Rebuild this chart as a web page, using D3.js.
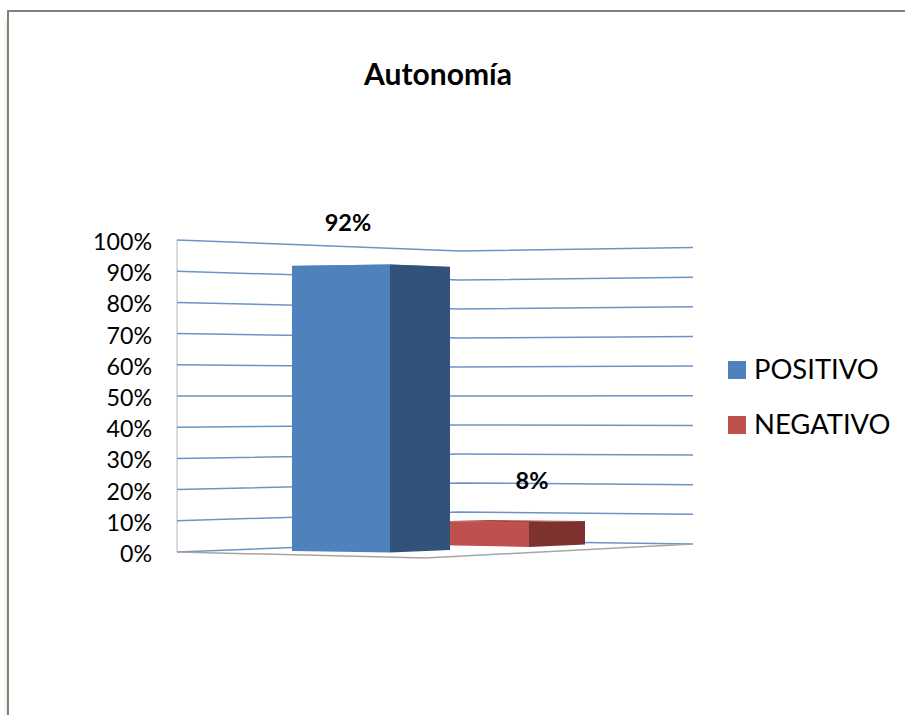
<!DOCTYPE html>
<html>
<head>
<meta charset="utf-8">
<script src="https://cdn.jsdelivr.net/npm/d3@7"></script>
<style>
    html, body { margin: 0; padding: 0; background: #fff; }
    svg { display: block; }
    text { font-family: Lato, "Open Sans", sans-serif; fill: #000; }
</style>
</head>
<body>
<svg id="chart"></svg>
<script>
const chartTitle = "Autonomía";
const categories = ["POSITIVO", "NEGATIVO"];
const values = [92, 8];
const valueLabels = ["92%", "8%"];
const tickValues = [0, 10, 20, 30, 40, 50, 60, 70, 80, 90, 100];

const width = 905, height = 715;
const svg = d3.select("#chart").attr("width", width).attr("height", height);

// page frame with the pale green glow on the left
const defs = svg.append("defs");
const glow = defs.append("linearGradient").attr("id", "glow");
glow.append("stop").attr("offset", "0").attr("stop-color", "#fff");
glow.append("stop").attr("offset", "1").attr("stop-color", "#e9f4d8");
svg.append("rect").attr("x", 3).attr("y", 20).attr("width", 4).attr("height", height - 20).attr("fill", "url(#glow)");
svg.append("path")
    .attr("d", `M8,${height}V11H${width}`)
    .attr("fill", "none").attr("stroke", "#808080").attr("stroke-width", 2);

// the two walls: left edge, back corner, right edge, each with its own value scale
const walls = [
    { x: 177, y: d3.scaleLinear().domain([0, 100]).range([552, 240]) },
    { x: 460, y: d3.scaleLinear().domain([0, 100]).range([541, 251]) },
    { x: 693, y: d3.scaleLinear().domain([0, 100]).range([544, 247.5]) }
];

const line = d3.line();

svg.append("path")
    .attr("d", line([[walls[0].x, walls[0].y(0)], [walls[0].x, walls[0].y(100)]]))
    .attr("stroke", "#c4c4c4").attr("stroke-width", 1.2).attr("fill", "none");

svg.append("g").selectAll("path")
    .data(tickValues)
    .join("path")
    .attr("d", t => line(walls.map(w => [w.x, w.y(t)])))
    .attr("fill", "none")
    .attr("stroke", "#6a94c8")
    .attr("stroke-width", 1.5);

// floor front edge
svg.append("path")
    .attr("d", line([[177, 552], [425, 558], [693, 544]]))
    .attr("fill", "none").attr("stroke", "#a6a6a6").attr("stroke-width", 1.5);

// y axis labels
svg.append("g")
    .attr("transform", "translate(152,2)")
    .call(d3.axisLeft(walls[0].y).tickValues(tickValues).tickFormat(d => d + "%").tickSize(0).tickPadding(0))
    .call(g => g.select(".domain").remove())
    .call(g => g.selectAll("text").attr("font-size", 23.2).style("font-family", "Lato, sans-serif"));

// corners of each box on the floor: x, base y and the height of 100% there
const boxes = [
    {
        front: "#4f81bd", side: "#32527a", top: "#4f81bd",
        fl: [292, 551, 310], fr: [390, 552.5, 313], br: [450, 550, 308], bl: [352, 549, 308]
    },
    {
        front: "#c0504d", side: "#7d3230", top: "#a84542",
        fl: [428, 545, 295], fr: [529, 547, 312], br: [585, 544.5, 294], bl: [490, 543, 287]
    }
];

function corner(c, v) {
    const y = d3.scaleLinear().domain([0, 100]).range([c[1], c[1] - c[2]]);
    return [c[0], y(v)];
}

const bars = values.map((v, i) => ({ value: v, box: boxes[i] }));

// red sits behind blue
const barG = svg.append("g").selectAll("g")
    .data(bars.slice().reverse())
    .join("g");

barG.append("path")
    .attr("fill", d => d.box.top)
    .attr("d", d => line([corner(d.box.fl, d.value), corner(d.box.fr, d.value), corner(d.box.br, d.value), corner(d.box.bl, d.value)]) + "Z");
barG.append("path")
    .attr("fill", d => d.box.front)
    .attr("d", d => line([corner(d.box.fl, 0), corner(d.box.fr, 0), corner(d.box.fr, d.value), corner(d.box.fl, d.value)]) + "Z");
barG.append("path")
    .attr("fill", d => d.box.side)
    .attr("d", d => line([corner(d.box.fr, 0), corner(d.box.br, 0), corner(d.box.br, d.value), corner(d.box.fr, d.value)]) + "Z");

// value labels
const labelPos = [[348, 223], [532, 481]];
svg.append("g").selectAll("text")
    .data(valueLabels)
    .join("text")
    .attr("x", (d, i) => labelPos[i][0])
    .attr("y", (d, i) => labelPos[i][1])
    .attr("dy", "0.36em")
    .attr("text-anchor", "middle")
    .attr("font-size", 23.5)
    .attr("font-weight", 700)
    .text(d => d);

// title
svg.append("text")
    .attr("x", 438).attr("y", 85)
    .attr("text-anchor", "middle")
    .attr("font-size", 30)
    .attr("font-weight", 700)
    .text(chartTitle);

// legend
const legend = svg.append("g").selectAll("g")
    .data(categories)
    .join("g")
    .attr("transform", (d, i) => `translate(728,${370 + i * 55})`);
legend.append("rect")
    .attr("y", -9).attr("width", 18).attr("height", 18)
    .attr("fill", (d, i) => boxes[i].front);
legend.append("text")
    .attr("x", 26)
    .attr("y", -1)
    .attr("dy", "0.36em")
    .attr("font-size", 27.4)
    .text(d => d);
</script>
</body>
</html>
